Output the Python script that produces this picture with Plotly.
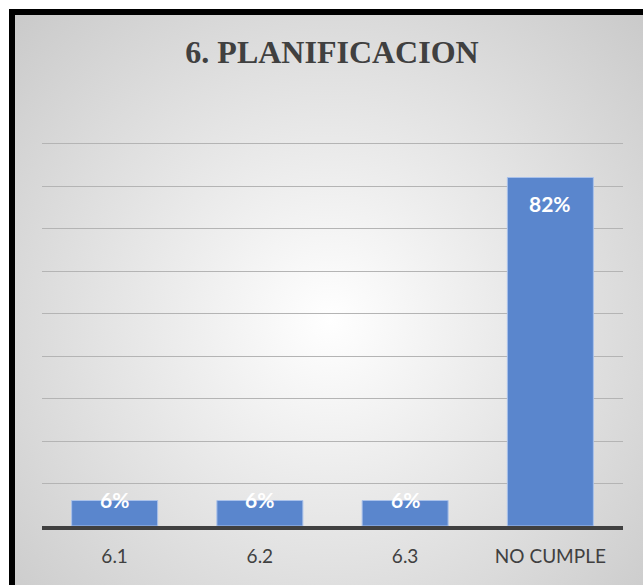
import plotly.graph_objects as go

# ---- data ----
categories = ["6.1", "6.2", "6.3", "NO CUMPLE"]
values = [0.06, 0.06, 0.06, 0.82]
title_text = "6. PLANIFICACION"

W, H = 643, 585

fig = go.Figure()

# background radial gradient (Excel-like chart area fill) on a full-paper helper subplot
cx, cy, r = 330, 320, 620
fig.add_trace(go.Scatter(
    x=[cx - r, cx + r, cx + r, cx - r, cx - r],
    y=[cy - r, cy - r, cy + r, cy + r, cy - r],
    mode="none", fill="toself",
    fillgradient=dict(type="radial", colorscale=[[0, "#ffffff"], [1, "#b4b4b4"]]),
    hoverinfo="skip", showlegend=False, xaxis="x", yaxis="y",
))

# bars
fig.add_trace(go.Bar(
    x=categories, y=values,
    marker=dict(color="#5a86cd", line=dict(color="#a9c1ea", width=1)),
    hoverinfo="skip", showlegend=False, xaxis="x2", yaxis="y2",
))

# data labels (x given as category index)
for i, v in enumerate(values):
    fig.add_annotation(
        x=i, y=v, xref="x2", yref="y2", text=f"<b>{v:.0%}</b>",
        showarrow=False, yanchor="middle",
        yshift=-26 if v > 0.2 else 1,
        font=dict(family="Lato", size=21, color="#ffffff"),
    )

# black frame (top and left) as one L-shaped filled path
xa, xb = 9 / W, 15 / W
ya, yb = 1 - 9 / H, 1 - 15 / H
fig.add_shape(type="path", xref="paper", yref="paper",
              path=f"M {xa} 0 L {xa} {ya} L 1 {ya} L 1 {yb} L {xb} {yb} L {xb} 0 Z",
              fillcolor="#000000", line=dict(width=0), layer="above")

fig.update_layout(
    width=W, height=H,
    margin=dict(l=0, r=0, t=0, b=0),
    paper_bgcolor="#ffffff",
    plot_bgcolor="rgba(0,0,0,0)",
    bargap=0.408,
    title=dict(text=f"<b>{title_text}</b>", x=332 / W, xanchor="center",
               y=1 - 52 / H, yanchor="middle", yref="paper",
               font=dict(family="Liberation Serif", size=32, color="#404040")),
    xaxis=dict(domain=[15 / W, 1], range=[15, W], visible=False, fixedrange=True),
    yaxis=dict(domain=[0, 1 - 15 / H], range=[H, 15], visible=False, fixedrange=True),
    xaxis2=dict(type="category", domain=[42 / W, 623 / W], anchor="y2",
                range=[-0.5, len(categories) - 0.5],
                showline=True, linecolor="#404040", linewidth=4,
                ticks="", showgrid=False,
                tickfont=dict(family="Lato", size=19, color="#404040"),
                ticklabelstandoff=10),
    yaxis2=dict(domain=[59 / H, 1 - 101 / H], anchor="x2", range=[0, 1.0], dtick=0.1,
                showticklabels=False, showgrid=True, gridcolor="#b4b4b4", gridwidth=1,
                zeroline=False, ticks=""),
)

fig.write_html(
    "out.html",
    config={"displayModeBar": False},
    post_script="document.documentElement.style.overflow='hidden';"
                "document.body.style.overflow='hidden';document.body.style.margin='0';",
)
